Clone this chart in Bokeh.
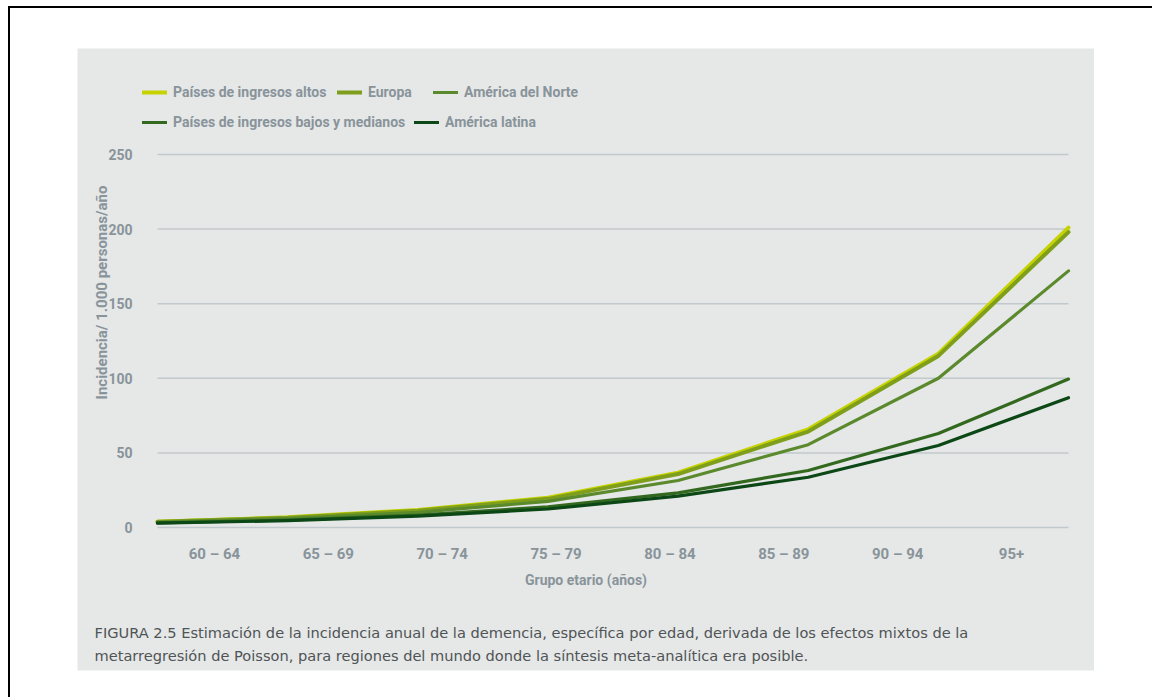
from math import pi
from bokeh.plotting import figure
from bokeh.layouts import column
from bokeh.models import (Range1d, LinearAxis, Legend, LegendItem, Label, FixedTicker)
from bokeh.embed import file_html
from bokeh.resources import INLINE

# ---- data ----
age_groups = ["60 – 64", "65 – 69", "70 – 74", "75 – 79", "80 – 84", "85 – 89", "90 – 94", "95+"]
altos = [3.9, 6.8, 11.8, 20.0, 36.8, 65.8, 116.5, 201.0]
europa = [3.8, 6.5, 11.2, 19.2, 35.8, 64.3, 115.0, 198.0]
norte = [3.6, 6.0, 10.2, 17.5, 31.5, 55.5, 100.0, 172.0]
bajos = [3.1, 5.0, 8.3, 13.8, 23.2, 38.2, 63.0, 99.5]
latina = [2.9, 4.6, 7.6, 12.4, 21.0, 33.7, 55.0, 87.0]
series_names = ["Países de ingresos altos", "Europa", "América del Norte",
                "Países de ingresos bajos y medianos", "América latina"]
y_ticks = [0, 50, 100, 150, 200, 250]
y_label = "Incidencia/ 1.000 personas/año"
x_label = "Grupo etario (años)"
caption_1 = "FIGURA 2.5  Estimación de la incidencia anual de la demencia, específica por edad, derivada de los efectos mixtos de la"
caption_2 = "metarregresión de Poisson, para regiones del mundo donde la síntesis meta-analítica era posible."

colors = ["#c6d300", "#7f9f1c", "#5b8a2c", "#33691f", "#0c4716"]
widths = [4, 4, 3.2, 3.2, 3.2]

PANEL = "#e6e7e7"
GRID = "#c2c9cc"
TXT = "#88949a"
CAP = "#4f5456"
FONT = "Roboto"

# ---- page geometry (pixels) ----
OX, OY = 10, 8                            # canvas origin on the page (after margin + border)
GL, GT, GR, GB = 77, 48, 1094, 670        # gray panel = plot frame
PX0, PX1 = 157, 1068                      # first / last age group
PY0, PY250 = 527, 154                     # y = 0 / y = 250
n = len(age_groups)
x_idx = list(range(n))

kx = (PX1 - PX0) / (n - 1)
ky = (PY0 - PY250) / 250.0
x_range = Range1d(-(PX0 - GL) / kx, (n - 1) + (GR - PX1) / kx)
y_range = Range1d(-(GB - PY0) / ky, 250 + (PY250 - GT) / ky)
kb = (PX1 - PX0) / n
band_range = Range1d(-(PX0 - GL) / kb, n + (GR - PX1) / kb)

p = figure(frame_width=GR - GL, frame_height=GB - GT, output_backend="svg", toolbar_location=None,
           x_range=x_range, y_range=y_range, x_axis_location=None,
           min_border_left=GL - OX, min_border_top=GT - OY, min_border_right=0, min_border_bottom=40)
p.border_fill_color = "white"
p.background_fill_color = PANEL
p.outline_line_color = None
p.xgrid.visible = False
p.ygrid.visible = False

# horizontal grid lines spanning the first..last age group
p.segment(x0=[0] * len(y_ticks), x1=[n - 1] * len(y_ticks), y0=y_ticks, y1=y_ticks,
          line_color=GRID, line_width=1.5)

# y axis, drawn at the first age group
yax = p.yaxis[0]
yax.fixed_location = 0
yax.ticker = FixedTicker(ticks=y_ticks)
yax.axis_line_color = None
yax.major_tick_line_color = None
yax.minor_tick_line_color = None
yax.major_label_standoff = 19
yax.major_label_text_font = FONT
yax.major_label_text_font_style = "bold"
yax.major_label_text_font_size = "14px"
yax.major_label_text_color = TXT

# x axis: one label band per age group, drawn at y = 0
p.extra_x_ranges = {"bands": band_range}
band_centers = [i + 0.5 for i in range(n)]
xax = LinearAxis(x_range_name="bands", ticker=FixedTicker(ticks=band_centers),
                 major_label_overrides={c: g for c, g in zip(band_centers, age_groups)})
xax.fixed_location = 0
xax.axis_line_color = None
xax.major_tick_line_color = None
xax.minor_tick_line_color = None
xax.major_label_standoff = 11
xax.major_label_text_font = FONT
xax.major_label_text_font_style = "bold"
xax.major_label_text_font_size = "15px"
xax.major_label_text_color = TXT
xax.axis_label = x_label
xax.axis_label_standoff = 6
xax.axis_label_text_font = FONT
xax.axis_label_text_font_style = "bold"
xax.axis_label_text_font_size = "14px"
xax.axis_label_text_color = TXT
p.add_layout(xax, "below")

renderers = []
for vals, col, w in zip([altos, europa, norte, bajos, latina], colors, widths):
    r = p.line(x_idx, vals, line_color=col, line_width=w, line_cap="round", line_join="round")
    renderers.append(r)

legend_pos = [(142, 92), (337, 92), (433, 92), (142, 122), (414, 122)]
for r, name, (lx, ly) in zip(renderers, series_names, legend_pos):
    leg = Legend(items=[LegendItem(label=name, renderers=[r])],
                 location=(lx - GL, GB - ly - 8), orientation="horizontal",
                 padding=0, margin=0, spacing=0, glyph_width=25, glyph_height=16,
                 label_height=16, label_standoff=6, border_line_color=None,
                 background_fill_alpha=0, label_text_font=FONT, label_text_font_style="bold",
                 label_text_font_size="14px", label_text_color=TXT)
    p.add_layout(leg)

p.add_layout(Label(x=101 - GL, y=GB - 292, x_units="screen", y_units="screen", text=y_label,
                   angle=pi / 2, text_align="center", text_baseline="middle",
                   text_font=FONT, text_font_style="bold", text_font_size="15px", text_color=TXT))
for txt, by in [(caption_1, 632), (caption_2, 655)]:
    p.add_layout(Label(x=94 - GL, y=GB - by, x_units="screen", y_units="screen", text=txt,
                       text_align="left", text_baseline="alphabetic",
                       text_font="DejaVu Sans", text_font_size="14.6px", text_color=CAP))

page = column(p, width=1160, margin=(6, 0, 0, 8),
              styles={"border-top": "2px solid black", "border-left": "2px solid black"})
open("out.html", "w").write(file_html(page, INLINE))
